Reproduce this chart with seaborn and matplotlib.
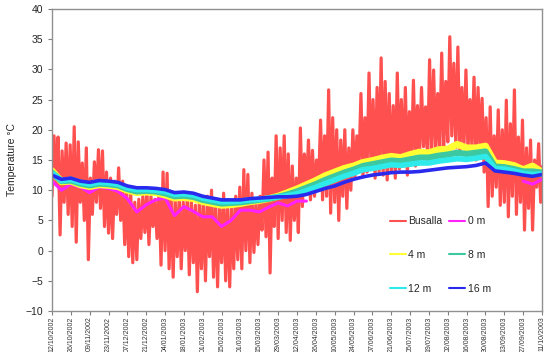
import numpy as np
import pandas as pd
import matplotlib
matplotlib.use("Agg")
import matplotlib.pyplot as plt
import seaborn as sns

# x tick labels (every 14 days from 12/10/2002)
tick_labels = ["12/10/2002", "26/10/2002", "09/11/2002", "23/11/2002", "07/12/2002",
               "21/12/2002", "04/01/2003", "18/01/2003", "01/02/2003", "15/02/2003",
               "01/03/2003", "15/03/2003", "29/03/2003", "12/04/2003", "26/04/2003",
               "10/05/2003", "24/05/2003", "07/06/2003", "21/06/2003", "05/07/2003",
               "19/07/2003", "02/08/2003", "16/08/2003", "30/08/2003", "13/09/2003",
               "27/09/2003", "11/10/2003"]
tick_days = np.arange(0, 365, 14)

# Busalla air temperature: daily-ish highs and lows, every 3 days
busalla_days = np.arange(0, 364, 3)
busalla_high = [19, 18.8, 16.5, 17.8, 17.5, 20.5, 18, 14.5, 17, 12,
                14.7, 16.7, 16.5, 13, 12, 11.5, 13.7, 11.5, 10, 9.5,
                8, 8.5, 9, 10, 9, 8.5, 10, 13, 12.8, 9,
                8.5, 9, 8, 9, 8.5, 7.5, 9, 8, 9, 10,
                8, 7.5, 9.5, 8, 7.5, 9, 10.5, 13.4, 12.6, 9.5,
                8, 9, 15, 16.3, 12, 19, 17, 19, 16, 14,
                12, 20.3, 16, 18.3, 16.6, 15, 21.6, 19, 26.6, 22,
                20, 18.3, 20, 17, 20, 19, 26, 22, 29.4, 25,
                27, 31.9, 28, 26, 24, 29.4, 25, 27, 23, 28.2,
                24, 27, 23.8, 31.6, 29.9, 26, 32.7, 28, 35.4, 31,
                33.7, 27, 29.9, 25, 28.7, 27, 25.2, 22, 23.8, 19,
                23.3, 20, 24.9, 21, 26.6, 18.8, 21.6, 17, 18.3, 15,
                17.7, 14]
busalla_low = [9, 11, 2.6, 8, 6, 4, 1.4, 8, 5, -1.5,
               6, 8, 7, 4, 2.9, 2, 6, 5, 1, -1,
               -2, -1.5, 2, 3, 1, 4, 2, -2.4, 0, -3,
               -4.4, -1, -3, 0, -4, -2, -6.8, -3, -5, -1,
               -4.4, -6, -2, -5, -6, -3, -1.5, -3, 0, -2,
               -0.3, 1, 3.4, 2.3, -3.7, 4, 2, 5, 3, 1.7,
               5, 3, 7.3, 9.5, 8.4, 9, 10.5, 8.4, 9, 6.2,
               8, 5, 9, 7, 10, 12, 13.8, 12.2, 13, 13.5,
               12, 13, 12.5, 11.7, 13, 12, 13.5, 14, 12.5, 15,
               14, 15.5, 17.2, 15, 16.5, 16, 17, 16.5, 18, 19,
               17, 16, 17, 16.5, 17, 15, 17, 13, 7.3, 9,
               10.5, 7.5, 8, 5.6, 9, 6, 8, 3.4, 7, 3.4,
               10.5, 8]

# sea water temperature at depth, weekly
sea_days = np.arange(0, 365, 7)
t0m = [11.5, 10.0, 11.0, 10.5, 9.6, 10.5, 10.3, 9.8, 8.6, 6.4,
       7.6, 8.4, 8.7, 5.8, 7.3, 6.5, 5.6, 5.6, 4.0, 5.0,
       6.7, 6.7, 6.4, 7.2, 7.9, 7.4, 8.2, 8.2] + [np.nan] * 22 + [11.5, 11.0, 11.8]
t4m = [13.2, 11.4, 11.5, 10.9, 10.6, 10.9, 10.8, 10.6, 10.0, 9.6,
       9.7, 9.6, 9.2, 8.7, 8.8, 8.6, 8.1, 7.8, 7.5, 7.6,
       7.8, 8.1, 8.3, 8.6, 9.0, 9.6, 10.2, 10.9, 11.6, 12.4,
       13.0, 13.6, 14.0, 14.6, 14.9, 15.3, 15.6, 15.4, 15.9, 16.3,
       16.2, 16.7, 16.8, 17.6, 17.0, 17.0, 17.3, 14.5, 14.4, 14.1,
       13.4, 14.0, 13.0]
t8m = [12.9, 11.5, 11.6, 11.1, 10.8, 11.1, 11.0, 10.8, 10.2, 9.8,
       9.9, 9.8, 9.5, 9.0, 9.1, 8.9, 8.4, 8.1, 7.8, 7.9,
       8.0, 8.2, 8.4, 8.6, 8.9, 9.3, 9.8, 10.4, 11.0, 11.7,
       12.3, 12.9, 13.4, 14.0, 14.3, 14.6, 14.9, 14.8, 15.1, 15.4,
       15.4, 15.7, 15.9, 16.2, 16.0, 16.2, 16.4, 13.9, 13.8, 13.5,
       13.1, 13.1, 12.9]
t12m = [12.8, 11.6, 11.8, 11.3, 11.0, 11.3, 11.2, 11.0, 10.4, 10.1,
        10.1, 10.0, 9.8, 9.3, 9.4, 9.2, 8.7, 8.4, 8.1, 8.1,
        8.2, 8.4, 8.5, 8.7, 8.9, 9.1, 9.4, 9.9, 10.5, 11.1,
        11.7, 12.3, 12.8, 13.4, 13.6, 13.9, 14.2, 14.1, 14.3, 14.5,
        14.5, 14.8, 15.0, 15.2, 15.1, 15.3, 15.6, 13.6, 13.5, 13.2,
        12.8, 12.6, 12.7]
t16m = [12.5, 11.8, 12.0, 11.5, 11.3, 11.6, 11.5, 11.3, 10.7, 10.4,
        10.4, 10.3, 10.1, 9.6, 9.7, 9.5, 9.0, 8.7, 8.4, 8.4,
        8.4, 8.6, 8.7, 8.8, 8.9, 8.9, 9.0, 9.3, 9.8, 10.3,
        10.7, 11.3, 11.8, 12.2, 12.5, 12.7, 12.9, 13.0, 13.0, 13.1,
        13.3, 13.5, 13.7, 13.8, 13.9, 14.1, 14.5, 13.2, 13.0, 12.8,
        12.5, 12.3, 12.6]

# zigzag between low and high so the air series looks like the daily swing
bx = np.ravel(np.column_stack([busalla_days, busalla_days + 1.5]))
by = np.ravel(np.column_stack([busalla_low, busalla_high]))
busalla = pd.DataFrame({"day": bx, "temp": by})

sea = pd.DataFrame({"day": sea_days, "0 m": t0m, "4 m": t4m, "8 m": t8m,
                    "12 m": t12m, "16 m": t16m})

sns.set_style("white")
plt.rcParams["font.family"] = ["Liberation Sans", "DejaVu Sans"]

fig = plt.figure(figsize=(5.5, 3.52), dpi=100)
ax = fig.add_axes([52 / 550, 1 - 311 / 352, 490 / 550, 302 / 352])

sns.lineplot(x="day", y="temp", data=busalla, color="#FF5050", linewidth=2.3,
             errorbar=None, ax=ax, label="Busalla")

winter = sea[sea["day"] < 192]
autumn = sea[sea["day"] > 345]
sns.lineplot(x="day", y="0 m", data=winter, color="#FF22FF", linewidth=2.2,
             errorbar=None, ax=ax, label="0 m")
sns.lineplot(x="day", y="0 m", data=autumn, color="#FF22FF", linewidth=2.2,
             errorbar=None, ax=ax)

colors = {"4 m": "#FFFF33", "8 m": "#3CC8A0", "12 m": "#2EEAEA", "16 m": "#2a2aEE"}
widths = {"4 m": 5.0, "8 m": 4.5, "12 m": 4.0, "16 m": 2.6}
for name in ["4 m", "8 m", "12 m", "16 m"]:
    sns.lineplot(x="day", y=name, data=sea, color=colors[name], linewidth=widths[name],
                 errorbar=None, ax=ax, label=name)

ax.set_xlim(0, 364)
ax.set_ylim(-10, 40)
ax.set_yticks(range(-10, 41, 5))
ax.set_xticks(tick_days)
ax.set_xticklabels(tick_labels, rotation=90, fontsize=5, color="#333333")
ax.tick_params(axis="y", labelsize=7.5, length=3, color="#808080", left=True)
ax.tick_params(axis="x", length=3, color="#808080", bottom=True, pad=1)
ax.set_xlabel("")
ax.set_ylabel("Temperature °C", fontsize=7.5, labelpad=6)
for s in ax.spines.values():
    s.set_color("#909090")
    s.set_linewidth(1.0)

h, l = ax.get_legend_handles_labels()
order = [0, 2, 4, 1, 3, 5]
ax.legend([h[i] for i in order], [l[i] for i in order], ncol=2, frameon=False,
          loc="upper left", bbox_to_anchor=(0.67, 0.345), fontsize=7.5,
          labelspacing=2.3, handlelength=1.6, handletextpad=0.2, columnspacing=0.6)
for line in ax.get_legend().get_lines():
    line.set_linewidth(1.5)

plt.savefig("out.png", dpi=100)
